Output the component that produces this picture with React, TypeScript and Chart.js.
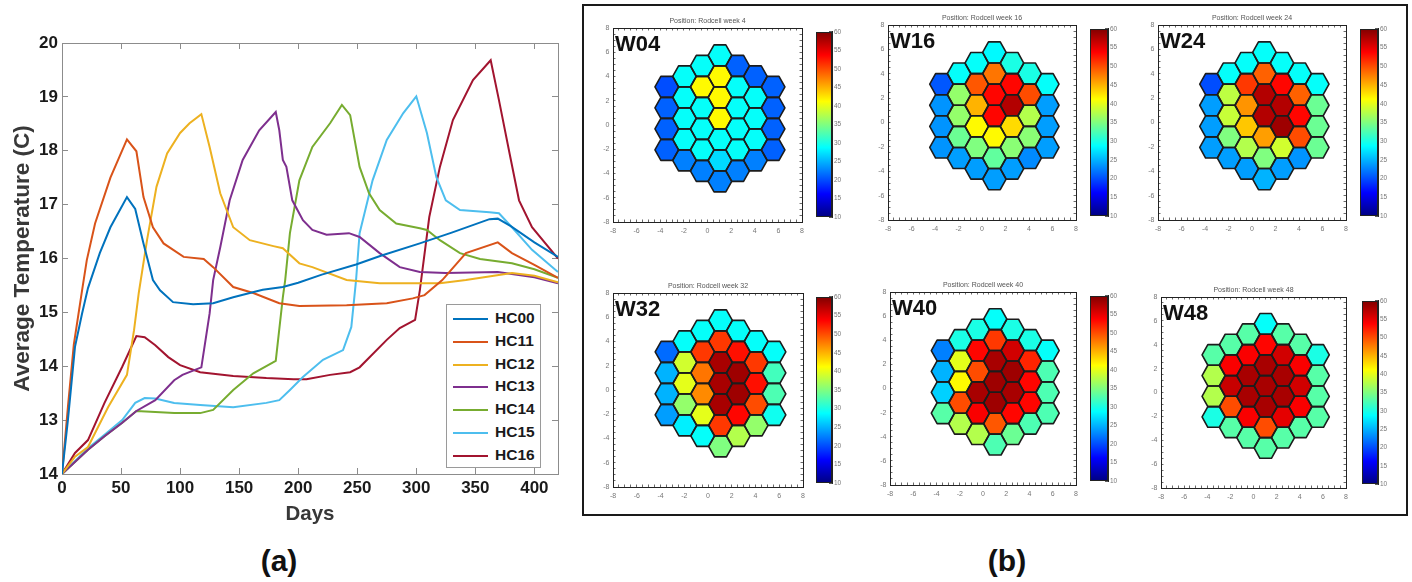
import React, { useEffect, useRef } from "react";
import { Chart, registerables } from "chart.js";

Chart.register(...registerables);

const FONT = '"Liberation Sans", Arial, Helvetica, sans-serif';
Chart.defaults.font.family = FONT;

// ---------------- Panel (a): average temperature curves ----------------
const SERIES_NAMES = ["HC00", "HC11", "HC12", "HC13", "HC14", "HC15", "HC16"];
const SERIES_COLORS = ["#0072BD", "#D95319", "#EDB120", "#7E2F8E", "#77AC30", "#4DBEEE", "#A2142F"];
const Y_TICK_LABELS = ["14", "13", "14", "15", "16", "17", "18", "19", "20"];
const X_LABEL = "Days";
const Y_LABEL = "Average Temperature (C)";

// [day, temperature]
const HC00 = [[0,12],[5,13.0],[11,14.36],[17,14.98],[22,15.45],[32,16.1],[41,16.58],[49,16.9],[55,17.14],[62,16.92],[69,16.28],[77,15.6],[83,15.41],[94,15.19],[111,15.15],[128,15.17],[145,15.28],[159,15.36],[170,15.42],[187,15.47],[200,15.55],[220,15.7],[249,15.89],[270,16.05],[303,16.28],[330,16.48],[362,16.73],[369,16.74],[380,16.6],[400,16.3],[420,16.03]];
const HC11 = [[0,12],[5,13.24],[10,14.4],[17,15.41],[21,15.97],[28,16.65],[41,17.5],[55,18.21],[63,17.99],[69,17.14],[77,16.58],[86,16.28],[103,16.03],[120,15.99],[128,15.84],[145,15.47],[162,15.36],[184,15.17],[201,15.12],[241,15.13],[275,15.17],[297,15.26],[307,15.32],[322,15.6],[342,16.1],[369,16.3],[381,16.1],[400,15.88],[420,15.64]];
const HC12 = [[0,12],[11,12.32],[22,12.5],[39,13.24],[55,13.84],[61,14.67],[65,15.36],[72,16.34],[80,17.33],[89,17.95],[100,18.33],[108,18.51],[118,18.68],[125,18.07],[134,17.21],[145,16.58],[159,16.34],[179,16.23],[187,16.19],[201,15.91],[212,15.84],[241,15.6],[269,15.54],[320,15.54],[342,15.6],[381,15.73],[400,15.68],[420,15.56]];
const HC13 = [[0,12],[22,12.45],[36,12.7],[51,12.95],[63,13.17],[79,13.37],[95,13.74],[102,13.84],[118,13.98],[125,14.98],[128,15.6],[134,16.21],[142,17.08],[153,17.83],[167,18.38],[181,18.72],[184,18.38],[187,17.83],[190,17.7],[195,17.08],[204,16.71],[212,16.53],[224,16.44],[243,16.47],[252,16.4],[269,16.1],[286,15.84],[303,15.75],[325,15.73],[369,15.75],[400,15.65],[420,15.54]];
const HC14 = [[0,12],[22,12.45],[36,12.7],[51,12.95],[63,13.17],[79,13.15],[95,13.13],[117,13.13],[128,13.19],[145,13.56],[162,13.87],[181,14.1],[187,15.28],[189,15.6],[193,16.47],[201,17.45],[212,18.07],[227,18.51],[237,18.85],[244,18.66],[252,17.7],[260,17.21],[269,16.9],[283,16.65],[303,16.56],[309,16.53],[320,16.34],[337,16.1],[354,15.99],[381,15.91],[400,15.8],[420,15.64]];
const HC15 = [[0,12],[22,12.48],[36,12.73],[51,13.0],[62,13.32],[70,13.41],[79,13.4],[95,13.32],[117,13.28],[145,13.24],[173,13.32],[184,13.37],[193,13.56],[204,13.8],[221,14.12],[238,14.3],[245,14.73],[249,15.6],[252,16.47],[263,17.45],[275,18.2],[289,18.7],[300,19.01],[309,18.33],[317,17.51],[325,17.08],[337,16.9],[362,16.86],[370,16.84],[381,16.58],[398,16.16],[420,15.75]];
const HC16 = [[0,12],[11,12.39],[22,12.63],[36,13.32],[51,13.99],[63,14.56],[70,14.54],[79,14.39],[90,14.17],[100,14.02],[117,13.89],[145,13.82],[173,13.78],[196,13.76],[207,13.76],[227,13.84],[244,13.89],[252,13.98],[275,14.49],[286,14.71],[299,14.86],[303,15.41],[311,16.77],[320,17.7],[331,18.57],[348,19.31],[363,19.68],[370,18.94],[379,17.95],[387,17.08],[398,16.58],[420,16.0]];
const SERIES = [HC00, HC11, HC12, HC13, HC14, HC15, HC16];

// ---------------- Panel (b): hexagonal cell maps ----------------
const WEEK_LABELS = ["W04", "W16", "W24", "W32", "W40", "W48"];
const WEEK_TITLES = [
  "Position: Rodcell week 4",
  "Position: Rodcell week 16",
  "Position: Rodcell week 24",
  "Position: Rodcell week 32",
  "Position: Rodcell week 40",
  "Position: Rodcell week 48",
];
const CB_MIN = 10;
const CB_MAX = 60;
const CB_STEP = 5;

// values per column (left to right), each column top to bottom
const W04 = [[20,21,21,21],[29,29,29,29,22.5],[29,41.5,29,29,29,22.5],[29,41.5,41.5,41.5,29,27,22.5],[21,29,29,29,29,22.5],[21,29,29,29,22.5],[21,21,21,21]];
const W16 = [[20.5,23.5,23.5,23.5],[29,36,36,34,24],[29,49.5,45,41.5,35,24],[28.5,48,53.5,53.5,41.5,33.5,24],[30,53.5,57.5,43,35.5,24],[30,50,37.5,35.5,23],[29,24,24,24]];
const W24 = [[20,24,24,24],[29,38,38.5,35,24],[29,51,46.5,44,37.5,24],[29,49,57.5,57.5,46,35,25],[29,53.5,57.5,58.5,39,24],[29,49,53.5,50,23.5],[29,34,34,34]];
const W32 = [[21.5,25,25,24],[29,39,40,36,28],[29,51,48,47,40,29],[29,51,58,58,58,51,35],[29,53,58.5,58.5,53.5,37.5],[29,51,53,50,36],[29,32,32.5,29.5]];
const W40 = [[22.5,25,26.5,33],[30,40,41.5,50,37.5],[30,53.5,50,58,54,37.5],[29,51,58,58.5,58.5,49.5,32.5],[30,56,58.5,58,53.5,34],[30,52,53.5,53.5,32.5],[29,32.5,32.5,32.5]];
const W48 = [[33,37.5,37.5,30],[33,54,56.5,50,33],[33,54,58,58,54,33],[29,53.5,58,58,58,50,33],[33,56,58,58,55,33],[33,54,56,54,33],[30,33,33,33]];
const WEEK_VALUES = [W04, W16, W24, W32, W40, W48];

// layout (pixels) of each sub-plot and its colour bar
const PANEL_BOXES = [
  { x: 613, y: 28, w: 195, h: 194 },
  { x: 888, y: 25, w: 194, h: 195 },
  { x: 1158, y: 25, w: 194, h: 195 },
  { x: 613, y: 293, w: 196, h: 194 },
  { x: 890, y: 292, w: 192, h: 193 },
  { x: 1161, y: 297, w: 191, h: 191 },
];
const CBAR_BOXES = [
  { x: 816, y: 28, w: 16, h: 193 },
  { x: 1090, y: 25, w: 18, h: 195 },
  { x: 1360, y: 25, w: 18, h: 195 },
  { x: 816, y: 293, w: 16, h: 194 },
  { x: 1090, y: 292, w: 18, h: 193 },
  { x: 1362, y: 297, w: 16, h: 191 },
];
const HEX_R = 1;
const HEX_CX = 1.05;
const HEX_CY = 0.55;

function jet(t: number): string {
  const c = (x: number) => Math.round(255 * Math.max(0, Math.min(1, x)));
  const r = c(1.5 - Math.abs(4 * t - 3));
  const g = c(1.5 - Math.abs(4 * t - 2));
  const b = c(1.5 - Math.abs(4 * t - 1));
  return `rgb(${r},${g},${b})`;
}

function LineChart() {
  const ref = useRef<HTMLCanvasElement>(null);
  useEffect(() => {
    const axisColor = "#8c8c8c";
    const tickFont = { family: FONT, size: 17, weight: "bold" as const };
    const chart = new Chart(ref.current!, {
      type: "line",
      data: {
        datasets: SERIES.map((s, i) => ({
          label: SERIES_NAMES[i],
          data: s.map(([x, y]) => ({ x, y })),
          borderColor: SERIES_COLORS[i],
          backgroundColor: SERIES_COLORS[i],
          borderWidth: 2,
          pointRadius: 0,
          tension: 0,
          fill: false,
        })),
      },
      options: {
        animation: false,
        responsive: false,
        maintainAspectRatio: false,
        layout: { padding: { top: 43, right: 22, left: 0, bottom: 0 } },
        plugins: { legend: { display: false }, tooltip: { enabled: false } },
        scales: {
          x: {
            type: "linear",
            position: "bottom",
            min: 0,
            max: 420,
            ticks: { stepSize: 50, includeBounds: false, font: tickFont, color: "#1a1a1a", padding: 10, maxRotation: 0 },
            grid: { drawOnChartArea: false, tickLength: -6, color: axisColor },
            border: { color: axisColor, width: 1 },
            title: { display: true, text: X_LABEL, font: { family: FONT, size: 20.5, weight: "bold" }, color: "#383838", padding: { top: 0, bottom: 13 } },
            afterFit: (s: any) => { s.height = 66; },
          },
          y: {
            type: "linear",
            position: "left",
            min: 12,
            max: 20,
            ticks: {
              stepSize: 1,
              includeBounds: false,
              font: tickFont,
              color: "#1a1a1a",
              padding: 10,
              callback: (_v: any, i: number) => Y_TICK_LABELS[i],
            },
            grid: { drawOnChartArea: false, tickLength: -6, color: axisColor },
            border: { color: axisColor, width: 1 },
            title: { display: true, text: Y_LABEL, font: { family: FONT, size: 22.5, weight: "bold" }, color: "#383838", padding: { top: 9, bottom: 0 } },
            afterFit: (s: any) => { s.width = 62; },
          },
          x2: {
            type: "linear",
            position: "top",
            min: 0,
            max: 420,
            ticks: { display: false, stepSize: 50, includeBounds: false },
            grid: { drawOnChartArea: false, tickLength: -6, color: axisColor },
            border: { color: axisColor, width: 1 },
            afterFit: (s: any) => { s.height = 0; },
          },
          y2: {
            type: "linear",
            position: "right",
            min: 12,
            max: 20,
            ticks: { display: false, stepSize: 1, includeBounds: false },
            grid: { drawOnChartArea: false, tickLength: -6, color: axisColor },
            border: { color: axisColor, width: 1 },
            afterFit: (s: any) => { s.width = 0; },
          },
        },
      } as any,
    });
    return () => chart.destroy();
  }, []);
  return (
    <canvas ref={ref} width={580} height={540} style={{ position: "absolute", left: 0, top: 0, width: 580, height: 540 }} />
  );
}

const hexPlugin = {
  id: "hexCells",
  afterDatasetsDraw(chart: any) {
    const ctx = chart.ctx;
    const meta = chart.getDatasetMeta(0);
    const ds = chart.data.datasets[0];
    const xs = chart.scales.x;
    const ys = chart.scales.y;
    const rx = Math.abs(xs.getPixelForValue(HEX_R) - xs.getPixelForValue(0));
    const ry = Math.abs(ys.getPixelForValue(HEX_R) - ys.getPixelForValue(0));
    const path = (px: number, py: number) => {
      ctx.beginPath();
      for (let k = 0; k < 6; k++) {
        const a = (Math.PI / 3) * k;
        const vx = px + rx * Math.cos(a);
        const vy = py - ry * Math.sin(a);
        if (k === 0) ctx.moveTo(vx, vy);
        else ctx.lineTo(vx, vy);
      }
      ctx.closePath();
    };
    ctx.save();
    meta.data.forEach((pt: any, i: number) => {
      const v = ds.data[i].v;
      path(pt.x, pt.y);
      ctx.fillStyle = jet((v - CB_MIN) / (CB_MAX - CB_MIN));
      ctx.fill();
    });
    ctx.strokeStyle = "#1c1c1c";
    ctx.lineWidth = 1.6;
    ctx.lineJoin = "round";
    meta.data.forEach((pt: any) => {
      path(pt.x, pt.y);
      ctx.stroke();
    });
    ctx.restore();
  },
};

const panelTextPlugin = {
  id: "panelText",
  afterDraw(chart: any, _args: any, opts: any) {
    const ctx = chart.ctx;
    const a = chart.chartArea;
    ctx.save();
    ctx.fillStyle = "#555";
    ctx.font = `7px ${FONT}`;
    ctx.textAlign = "center";
    ctx.textBaseline = "alphabetic";
    ctx.fillText(opts.title, (a.left + a.right) / 2, a.top - 5);
    ctx.fillStyle = "#111";
    ctx.font = `bold 22px ${FONT}`;
    ctx.textAlign = "left";
    ctx.fillText(opts.label, a.left + 2, a.top + 23);
    ctx.restore();
  },
};

const framePlugin = {
  id: "frame",
  afterDraw(chart: any) {
    const ctx = chart.ctx;
    const a = chart.chartArea;
    ctx.save();
    ctx.strokeStyle = "#222";
    ctx.lineWidth = 1;
    ctx.strokeRect(Math.round(a.left) + 0.5, Math.round(a.top) + 0.5, Math.round(a.right - a.left) - 1, Math.round(a.bottom - a.top) - 1);
    ctx.restore();
  },
};

function HexMap({ index }: { index: number }) {
  const ref = useRef<HTMLCanvasElement>(null);
  const box = PANEL_BOXES[index];
  const padL = 24, padT = 22, padR = 3, padB = 16;
  const W = box.w + padL + padR;
  const H = box.h + padT + padB;
  useEffect(() => {
    const cols = WEEK_VALUES[index];
    const pts: any[] = [];
    cols.forEach((col, c) => {
      const q = c - 3;
      const n = col.length;
      col.forEach((v, j) => {
        pts.push({
          x: HEX_CX + 1.5 * q * HEX_R,
          y: HEX_CY + ((n - 1) / 2 - j) * Math.sqrt(3) * HEX_R,
          v,
        });
      });
    });
    const small = { family: FONT, size: 7 };
    const lab = (v: any) => (Math.abs(v % 2) < 1e-9 ? String(v) : "");
    const gridOpt = { drawOnChartArea: false, tickLength: -2.5, color: "#444", lineWidth: 0.8 };
    const chart = new Chart(ref.current!, {
      type: "scatter",
      data: { datasets: [{ data: pts, pointRadius: 0, showLine: false }] },
      options: {
        animation: false,
        responsive: false,
        maintainAspectRatio: false,
        layout: { padding: { top: padT, right: padR, left: 0, bottom: 0 } },
        plugins: {
          legend: { display: false },
          tooltip: { enabled: false },
          panelText: { title: WEEK_TITLES[index], label: WEEK_LABELS[index] },
        },
        scales: {
          x: {
            type: "linear", position: "bottom", min: -8, max: 8,
            ticks: { stepSize: 0.5, autoSkip: false, includeBounds: false, font: small, color: "#777", padding: 7, maxRotation: 0, callback: lab },
            grid: gridOpt, border: { color: "#222", width: 1 },
            afterFit: (s: any) => { s.height = padB; },
          },
          y: {
            type: "linear", position: "left", min: -8, max: 8,
            ticks: { stepSize: 0.5, autoSkip: false, includeBounds: false, font: small, color: "#777", padding: 6, callback: lab },
            grid: gridOpt, border: { color: "#222", width: 1 },
            afterFit: (s: any) => { s.width = padL; },
          },
          x2: {
            type: "linear", position: "top", min: -8, max: 8,
            ticks: { display: false, stepSize: 0.5, autoSkip: false, includeBounds: false },
            grid: gridOpt, border: { color: "#222", width: 1 },
            afterFit: (s: any) => { s.height = 0; },
          },
          y2: {
            type: "linear", position: "right", min: -8, max: 8,
            ticks: { display: false, stepSize: 0.5, autoSkip: false, includeBounds: false },
            grid: gridOpt, border: { color: "#222", width: 1 },
            afterFit: (s: any) => { s.width = 0; },
          },
        },
      } as any,
      plugins: [hexPlugin, panelTextPlugin],
    });
    return () => chart.destroy();
  }, [index]);
  return (
    <canvas ref={ref} width={W} height={H}
      style={{ position: "absolute", left: box.x - padL, top: box.y - padT, width: W, height: H }} />
  );
}

function ColorBar({ index }: { index: number }) {
  const ref = useRef<HTMLCanvasElement>(null);
  const box = CBAR_BOXES[index];
  const padL = 1, padT = 5, padB = 5, axisW = 22;
  const W = box.w + padL + axisW;
  const H = box.h + padT + padB;
  useEffect(() => {
    const chart = new Chart(ref.current!, {
      type: "bar",
      data: {
        labels: [""],
        datasets: [{
          data: [[CB_MIN, CB_MAX]],
          barPercentage: 1,
          categoryPercentage: 1,
          borderWidth: 0,
          backgroundColor: (c: any) => {
            const a = c.chart.chartArea;
            if (!a) return "#00f";
            const g = c.chart.ctx.createLinearGradient(0, a.bottom, 0, a.top);
            [0, 0.125, 0.375, 0.625, 0.875, 1].forEach((t) => g.addColorStop(t, jet(t)));
            return g;
          },
        }],
      },
      options: {
        animation: false,
        responsive: false,
        maintainAspectRatio: false,
        layout: { padding: { top: padT, bottom: padB, left: padL, right: 0 } },
        plugins: { legend: { display: false }, tooltip: { enabled: false } },
        scales: {
          x: { display: false },
          y: {
            position: "right", min: CB_MIN, max: CB_MAX,
            ticks: { stepSize: CB_STEP, font: { family: FONT, size: 6.5 }, color: "#777", padding: 5 },
            grid: { drawOnChartArea: false, tickLength: -3, color: "#333", lineWidth: 0.8 },
            border: { color: "#222" },
            afterFit: (s: any) => { s.width = axisW; },
          },
        },
      } as any,
      plugins: [framePlugin],
    });
    return () => chart.destroy();
  }, [index]);
  return (
    <canvas ref={ref} width={W} height={H}
      style={{ position: "absolute", left: box.x - padL, top: box.y - padT, width: W, height: H }} />
  );
}

function Legend() {
  return (
    <div style={{
      position: "absolute", left: 446, top: 304, width: 95, height: 164,
      border: "1px solid #9a9a9a", background: "#fff", boxSizing: "border-box",
    }}>
      {SERIES_NAMES.map((n, i) => (
        <div key={n} style={{ position: "absolute", left: 0, top: 4 + i * 22.8, height: 20, width: "100%" }}>
          <div style={{ position: "absolute", left: 6, top: 9, width: 35, height: 2, background: SERIES_COLORS[i] }} />
          <div style={{
            position: "absolute", left: 48, top: 0, lineHeight: "20px",
            font: `bold 15.5px ${FONT}`, color: "#1a1a1a", whiteSpace: "nowrap",
          }}>{n}</div>
        </div>
      ))}
    </div>
  );
}

export default function App() {
  return (
    <div style={{ position: "absolute", left: 0, top: 0, width: 1412, height: 582, background: "#fff", overflow: "hidden" }}>
      <LineChart />
      <Legend />
      <div style={{
        position: "absolute", left: 582, top: 4, width: 826, height: 512,
        border: "2px solid #1a1a1a", boxSizing: "border-box",
      }} />
      {PANEL_BOXES.map((_, i) => <HexMap key={"h" + i} index={i} />)}
      {CBAR_BOXES.map((_, i) => <ColorBar key={"c" + i} index={i} />)}
      <div style={{
        position: "absolute", left: 229, top: 546, width: 100, textAlign: "center",
        font: `bold 30px ${FONT}`, lineHeight: "30px", color: "#111",
      }}>(a)</div>
      <div style={{
        position: "absolute", left: 957, top: 546, width: 100, textAlign: "center",
        font: `bold 30px ${FONT}`, lineHeight: "30px", color: "#111",
      }}>(b)</div>
    </div>
  );
}
